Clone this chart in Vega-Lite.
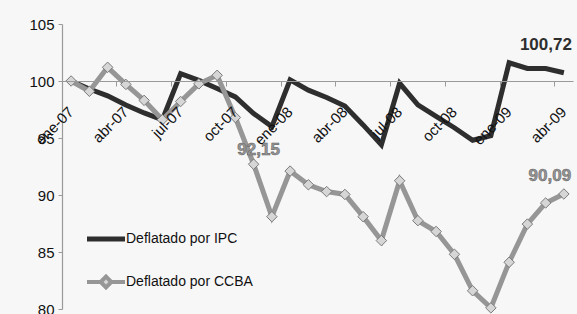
{
  "$schema": "https://vega.github.io/schema/vega-lite/v6.json",
  "width": 511,
  "height": 285,
  "autosize": "none",
  "padding": {"left": 62, "top": 24, "right": 4, "bottom": 5},
  "background": "#f7f7f7",
  "config": {
    "view": {"stroke": null},
    "font": "Liberation Sans"
  },
  "data": {
    "values": [
      {"mes": "ene-07", "serie": "Deflatado por IPC", "valor": 100},
      {"mes": "feb-07", "serie": "Deflatado por IPC", "valor": 99.3},
      {"mes": "mar-07", "serie": "Deflatado por IPC", "valor": 98.7},
      {"mes": "abr-07", "serie": "Deflatado por IPC", "valor": 97.9},
      {"mes": "may-07", "serie": "Deflatado por IPC", "valor": 97.2},
      {"mes": "jun-07", "serie": "Deflatado por IPC", "valor": 96.6},
      {"mes": "jul-07", "serie": "Deflatado por IPC", "valor": 100.65},
      {"mes": "ago-07", "serie": "Deflatado por IPC", "valor": 100.05},
      {"mes": "sep-07", "serie": "Deflatado por IPC", "valor": 99.35},
      {"mes": "oct-07", "serie": "Deflatado por IPC", "valor": 98.6},
      {"mes": "nov-07", "serie": "Deflatado por IPC", "valor": 97.15},
      {"mes": "dic-07", "serie": "Deflatado por IPC", "valor": 96.0},
      {"mes": "ene-08", "serie": "Deflatado por IPC", "valor": 100.1},
      {"mes": "feb-08", "serie": "Deflatado por IPC", "valor": 99.2},
      {"mes": "mar-08", "serie": "Deflatado por IPC", "valor": 98.55},
      {"mes": "abr-08", "serie": "Deflatado por IPC", "valor": 97.8},
      {"mes": "may-08", "serie": "Deflatado por IPC", "valor": 96.15},
      {"mes": "jun-08", "serie": "Deflatado por IPC", "valor": 94.4},
      {"mes": "jul-08", "serie": "Deflatado por IPC", "valor": 99.8},
      {"mes": "ago-08", "serie": "Deflatado por IPC", "valor": 97.9},
      {"mes": "sep-08", "serie": "Deflatado por IPC", "valor": 96.9},
      {"mes": "oct-08", "serie": "Deflatado por IPC", "valor": 95.9},
      {"mes": "nov-08", "serie": "Deflatado por IPC", "valor": 94.8},
      {"mes": "dic-08", "serie": "Deflatado por IPC", "valor": 95.2},
      {"mes": "ene-09", "serie": "Deflatado por IPC", "valor": 101.6},
      {"mes": "feb-09", "serie": "Deflatado por IPC", "valor": 101.1},
      {"mes": "mar-09", "serie": "Deflatado por IPC", "valor": 101.1},
      {"mes": "abr-09", "serie": "Deflatado por IPC", "valor": 100.72, "etiqueta": "100,72"},
      {"mes": "ene-07", "serie": "Deflatado por CCBA", "valor": 100},
      {"mes": "feb-07", "serie": "Deflatado por CCBA", "valor": 99.1},
      {"mes": "mar-07", "serie": "Deflatado por CCBA", "valor": 101.2},
      {"mes": "abr-07", "serie": "Deflatado por CCBA", "valor": 99.7},
      {"mes": "may-07", "serie": "Deflatado por CCBA", "valor": 98.3},
      {"mes": "jun-07", "serie": "Deflatado por CCBA", "valor": 96.6},
      {"mes": "jul-07", "serie": "Deflatado por CCBA", "valor": 98.2},
      {"mes": "ago-07", "serie": "Deflatado por CCBA", "valor": 99.75},
      {"mes": "sep-07", "serie": "Deflatado por CCBA", "valor": 100.5},
      {"mes": "oct-07", "serie": "Deflatado por CCBA", "valor": 96.8},
      {"mes": "nov-07", "serie": "Deflatado por CCBA", "valor": 92.7, "etiqueta": "92,15"},
      {"mes": "dic-07", "serie": "Deflatado por CCBA", "valor": 88.1},
      {"mes": "ene-08", "serie": "Deflatado por CCBA", "valor": 92.1},
      {"mes": "feb-08", "serie": "Deflatado por CCBA", "valor": 90.9},
      {"mes": "mar-08", "serie": "Deflatado por CCBA", "valor": 90.3},
      {"mes": "abr-08", "serie": "Deflatado por CCBA", "valor": 90.05},
      {"mes": "may-08", "serie": "Deflatado por CCBA", "valor": 88.1},
      {"mes": "jun-08", "serie": "Deflatado por CCBA", "valor": 86.0},
      {"mes": "jul-08", "serie": "Deflatado por CCBA", "valor": 91.25},
      {"mes": "ago-08", "serie": "Deflatado por CCBA", "valor": 87.75},
      {"mes": "sep-08", "serie": "Deflatado por CCBA", "valor": 86.8},
      {"mes": "oct-08", "serie": "Deflatado por CCBA", "valor": 84.8},
      {"mes": "nov-08", "serie": "Deflatado por CCBA", "valor": 81.6},
      {"mes": "dic-08", "serie": "Deflatado por CCBA", "valor": 80.1},
      {"mes": "ene-09", "serie": "Deflatado por CCBA", "valor": 84.1},
      {"mes": "feb-09", "serie": "Deflatado por CCBA", "valor": 87.45},
      {"mes": "mar-09", "serie": "Deflatado por CCBA", "valor": 89.3},
      {"mes": "abr-09", "serie": "Deflatado por CCBA", "valor": 90.09, "etiqueta": "90,09"}
    ]
  },
  "encoding": {
    "x": {
      "field": "mes",
      "type": "ordinal",
      "scale": {
        "type": "band",
        "paddingInner": 0,
        "paddingOuter": 0,
        "domain": ["ene-07","feb-07","mar-07","abr-07","may-07","jun-07","jul-07","ago-07","sep-07","oct-07","nov-07","dic-07","ene-08","feb-08","mar-08","abr-08","may-08","jun-08","jul-08","ago-08","sep-08","oct-08","nov-08","dic-08","ene-09","feb-09","mar-09","abr-09"]
      },
      "axis": {
        "title": null,
        "orient": "bottom",
        "offset": -228,
        "zindex": 2,
        "values": ["ene-07","abr-07","jul-07","oct-07","ene-08","abr-08","jul-08","oct-08","ene-09","abr-09"],
        "bandPosition": 0,
        "domainColor": "#9a9a9a",
        "domainWidth": 1.2,
        "tickColor": "#9a9a9a",
        "tickSize": 5,
        "labelAngle": -45,
        "labelAlign": "right",
        "labelBaseline": "middle",
        "labelPadding": 23,
        "labelFont": "Liberation Sans",
        "labelFontSize": 15,
        "labelColor": "#111111",
        "labelFlush": false,
        "labelOverlap": false
      }
    },
    "y": {
      "field": "valor",
      "type": "quantitative",
      "scale": {"domain": [80, 105], "nice": false, "zero": false},
      "axis": {
        "title": null,
        "values": [80, 85, 90, 95, 100, 105],
        "grid": false,
        "domainColor": "#9a9a9a",
        "domainWidth": 1.2,
        "tickColor": "#9a9a9a",
        "tickSize": 4,
        "labelPadding": 4,
        "labelFont": "Liberation Sans",
        "labelFontSize": 15,
        "labelColor": "#111111"
      }
    }
  },
  "layer": [
    {
      "mark": {"type": "line", "strokeWidth": 5, "strokeJoin": "miter"},
      "encoding": {
        "color": {
          "field": "serie",
          "type": "nominal",
          "scale": {"domain": ["Deflatado por IPC", "Deflatado por CCBA"], "range": ["#2e2e2e", "#969696"]},
          "legend": {
            "orient": "none",
            "legendX": 37,
            "legendY": 208,
            "title": null,
            "symbolType": "stroke",
            "symbolSize": 1444,
            "symbolStrokeWidth": 5,
            "labelFont": "Liberation Sans",
            "labelFontSize": 14,
            "labelColor": "#111111",
            "labelOffset": 13,
            "rowPadding": 19,
            "padding": 0,
            "encode": {
              "symbols": {
                "update": {
                  "shape": {"signal": "datum.value == 'Deflatado por CCBA' ? 'M-1,0H-0.28M0.28,0H1M-0.28,0L0,-0.28L0.28,0L0,0.28Z' : 'stroke'"},
                  "fill": {"signal": "datum.value == 'Deflatado por CCBA' ? '#d6d6d6' : 'transparent'"},
                  "strokeWidth": {"signal": "datum.value == 'Deflatado por CCBA' ? 4 : 5"}
                }
              }
            }
          }
        },
        "order": {"field": "serie", "sort": "descending"}
      }
    },
    {
      "transform": [{"filter": "datum.serie == 'Deflatado por CCBA'"}],
      "mark": {"type": "point", "shape": "diamond", "size": 110, "filled": true, "fill": "#d6d6d6", "stroke": "#7a7a7a", "strokeWidth": 1, "opacity": 1}
    },
    {
      "transform": [{"filter": "datum.etiqueta == '100,72'"}],
      "mark": {"type": "text", "dx": -18, "dy": -28, "font": "Liberation Sans", "fontWeight": "bold", "fontSize": 17, "color": "#2e2e2e"},
      "encoding": {"text": {"field": "etiqueta"}}
    },
    {
      "transform": [{"filter": "datum.etiqueta == '92,15'"}],
      "mark": {"type": "text", "dx": 5, "dy": -14, "font": "Liberation Sans", "fontWeight": "bold", "fontSize": 17, "fill": "#969696", "stroke": "#5a5a5a", "strokeWidth": 0.5},
      "encoding": {"text": {"field": "etiqueta"}}
    },
    {
      "transform": [{"filter": "datum.etiqueta == '90,09'"}],
      "mark": {"type": "text", "dx": -14, "dy": -18, "font": "Liberation Sans", "fontWeight": "bold", "fontSize": 17, "fill": "#969696", "stroke": "#5a5a5a", "strokeWidth": 0.5},
      "encoding": {"text": {"field": "etiqueta"}}
    }
  ]
}
